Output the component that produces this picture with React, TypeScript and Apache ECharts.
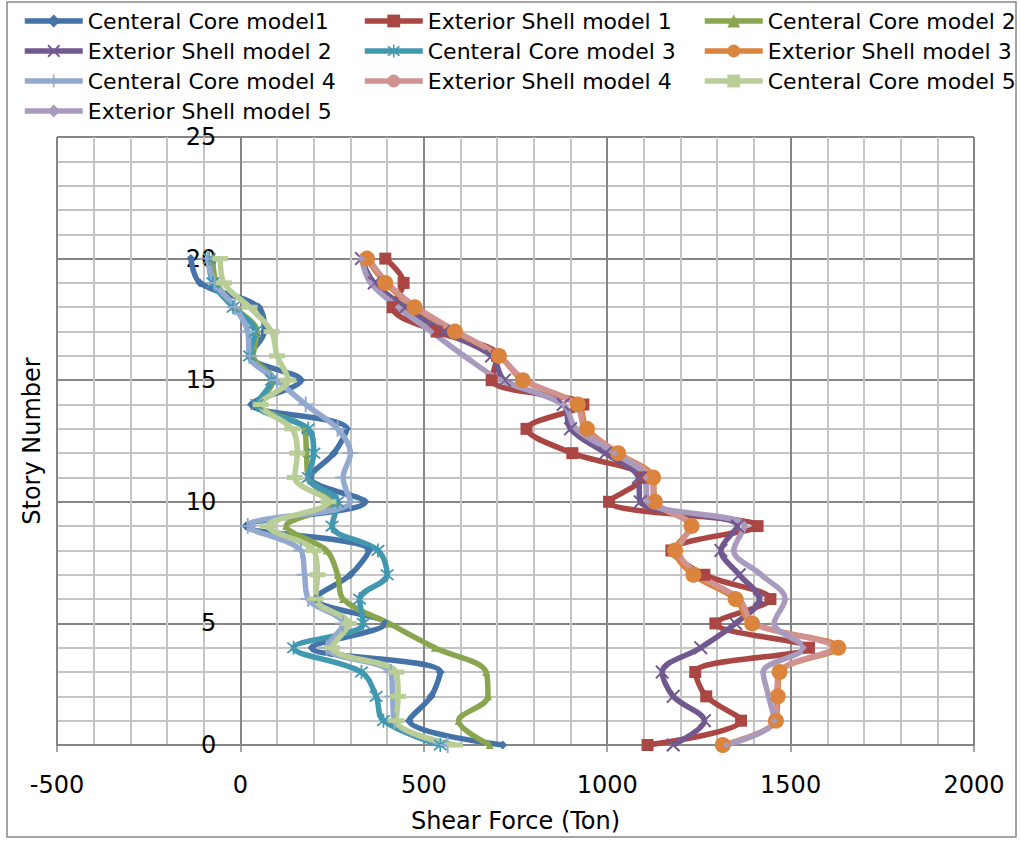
import React, { useEffect, useRef } from "react";
import * as echarts from "echarts";

// Story levels (0 = base, 20 = roof)
const stories = [0, 1, 2, 3, 4, 5, 6, 7, 8, 9, 10, 11, 12, 13, 14, 15, 16, 17, 18, 19, 20];

// Shear force per story (Ton), listed from story 0 up to story 20
const coreModel1 = [715, 460, 520, 545, 195, 395, 205, 300, 350, 15, 340, 190, 255, 290, 30, 165, 25, 65, 50, -110, -135];
const shellModel1 = [1110, 1365, 1270, 1240, 1550, 1295, 1445, 1265, 1175, 1410, 1005, 1100, 905, 780, 935, 685, 700, 535, 415, 445, 395];
const coreModel2 = [680, 595, 675, 670, 530, 405, 280, 265, 235, 125, 255, 185, 180, 175, 50, 90, 35, 45, -15, -65, -75];
const shellModel2 = [1180, 1265, 1180, 1150, 1255, 1350, 1415, 1360, 1310, 1355, 1090, 1085, 995, 900, 880, 720, 685, 555, 450, 365, 330];
const coreModel3 = [545, 390, 370, 330, 145, 335, 325, 400, 375, 250, 265, 185, 200, 185, 45, 85, 25, 40, -20, -75, -85];
const shellModel3 = [1315, 1460, 1465, 1470, 1630, 1395, 1350, 1235, 1185, 1230, 1130, 1125, 1030, 945, 920, 770, 705, 585, 475, 395, 345];
const coreModel4 = [565, 420, 415, 410, 235, 280, 185, 175, 165, 20, 300, 280, 300, 265, 178, 100, 25, 20, -15, -70, -90];
const shellModel4 = [1320, 1458, 1462, 1468, 1615, 1400, 1360, 1250, 1195, 1225, 1130, 1120, 1030, 940, 915, 775, 705, 590, 480, 400, 350];
const coreModel5 = [585, 425, 430, 425, 250, 295, 205, 210, 200, 75, 240, 148, 155, 141, 55, 130, 100, 85, 25, -45, -55];
const shellModel5 = [1325, 1455, 1440, 1425, 1535, 1455, 1485, 1420, 1345, 1375, 1110, 1105, 1020, 915, 880, 710, 610, 520, 430, 355, 330];

const seriesNames = [
  "Centeral Core model1",
  "Exterior Shell model 1",
  "Centeral Core model 2",
  "Exterior Shell model 2",
  "Centeral Core model 3",
  "Exterior Shell model 3",
  "Centeral Core model 4",
  "Exterior Shell model 4",
  "Centeral Core model 5",
  "Exterior Shell model 5",
];
const seriesValues = [
  coreModel1, shellModel1, coreModel2, shellModel2, coreModel3,
  shellModel3, coreModel4, shellModel4, coreModel5, shellModel5,
];

const xTicks = { min: -500, max: 2000, step: 500 };
const yTicks = { min: 0, max: 25, step: 5 };

const palette = [
  "#4572A7", "#AA4643", "#89A54E", "#71588F", "#4198AF",
  "#DB843D", "#93A9CF", "#D19392", "#B9CD96", "#A99BBD",
];

const crossPath = "path://M1,0L5,4L9,0L10,1L6,5L10,9L9,10L5,6L1,10L0,9L4,5L0,1Z";
const starPath = "path://M1,0L5,4L9,0L10,1L6,5L10,9L9,10L5,6L1,10L0,9L4,5L0,1Z M4.4,-1H5.6V11H4.4Z";
const plusPath = "path://M4.4,0H5.6V4.4H10V5.6H5.6V10H4.4V5.6H0V4.4H4.4Z";

const markers: any[] = [
  { symbol: "diamond", symbolSize: 9 },
  { symbol: "rect", symbolSize: 12 },
  { symbol: "triangle", symbolSize: 8 },
  { symbol: crossPath, symbolSize: 14 },
  { symbol: starPath, symbolSize: 14 },
  { symbol: "circle", symbolSize: 16 },
  { symbol: plusPath, symbolSize: 16 },
  { symbol: "none", symbolSize: 0 },
  { symbol: "rect", symbolSize: [16, 5] },
  { symbol: "diamond", symbolSize: 7 },
];

const FONT = "DejaVu Sans";
const GRID_MAJOR = "#868686";
const GRID_MINOR = "#C4C4C4";

// Plot box in pixels
const PLOT_LEFT = 57;
const PLOT_RIGHT = 974;

export default function App() {
  const ref = useRef<HTMLDivElement>(null);

  useEffect(() => {
    if (!ref.current) return;
    const chart = echarts.init(ref.current, undefined, { renderer: "svg" });

    const series = seriesNames.map((name, i) => ({
      name,
      type: "line",
      data: seriesValues[i].map((v, k) => [v, stories[k]]),
      smooth: 0.35,
      symbol: markers[i].symbol,
      symbolSize: markers[i].symbolSize,
      showSymbol: markers[i].symbol !== "none",
      lineStyle: { color: palette[i], width: 5.5 },
      itemStyle: { color: palette[i] },
      emphasis: { disabled: true },
    }));

    const legendBase = {
      orient: "vertical",
      top: 8,
      itemWidth: 58,
      itemHeight: 16,
      itemGap: 4,
      padding: 0,
      selectedMode: false,
      lineStyle: { width: 5.5 },
      textStyle: { fontFamily: FONT, fontSize: 22, color: "#000", lineHeight: 26 },
    };

    const plainNumber = (v: number) => String(v);

    // The vertical axis crosses the horizontal one at zero shear force
    const zeroShift =
      ((0 - xTicks.min) / (xTicks.max - xTicks.min)) * (PLOT_RIGHT - PLOT_LEFT);

    chart.setOption({
      animation: false,
      backgroundColor: "#fff",
      textStyle: { fontFamily: FONT },
      legend: [
        { ...legendBase, left: 22, data: [seriesNames[0], seriesNames[3], seriesNames[6], seriesNames[9]] },
        { ...legendBase, left: 362, data: [seriesNames[1], seriesNames[4], seriesNames[7]] },
        { ...legendBase, left: 702, data: [seriesNames[2], seriesNames[5], seriesNames[8]] },
      ],
      grid: {
        left: PLOT_LEFT,
        right: 1021 - PLOT_RIGHT,
        top: 137,
        bottom: 96,
        containLabel: false,
        outerBoundsMode: "none",
      },
      xAxis: {
        type: "value",
        min: xTicks.min,
        max: xTicks.max,
        interval: xTicks.step,
        name: "Shear Force (Ton)",
        nameLocation: "middle",
        nameGap: 64,
        nameTextStyle: { fontFamily: FONT, fontSize: 24, color: "#000" },
        axisLine: { show: true, onZero: false, lineStyle: { color: GRID_MAJOR, width: 2 } },
        axisTick: { show: true, length: 7, lineStyle: { color: GRID_MAJOR, width: 1.5 } },
        axisLabel: { fontFamily: FONT, fontSize: 24, color: "#000", margin: 28, formatter: plainNumber },
        splitLine: { show: true, lineStyle: { color: GRID_MAJOR, width: 2 } },
        minorTick: { show: false, splitNumber: 5 },
        minorSplitLine: { show: true, lineStyle: { color: GRID_MINOR, width: 2 } },
      },
      yAxis: {
        type: "value",
        min: yTicks.min,
        max: yTicks.max,
        interval: yTicks.step,
        offset: -zeroShift,
        name: "Story Number",
        nameLocation: "middle",
        nameRotate: 90,
        nameGap: 196,
        nameTextStyle: { fontFamily: FONT, fontSize: 24, color: "#000" },
        axisLine: { show: true, onZero: false, lineStyle: { color: GRID_MAJOR, width: 2 } },
        axisTick: { show: true, length: 5, lineStyle: { color: GRID_MAJOR, width: 1.5 } },
        axisLabel: {
          fontFamily: FONT,
          fontSize: 24,
          lineHeight: 20,
          color: "#000",
          margin: 24,
          formatter: plainNumber,
        },
        splitLine: { show: true, lineStyle: { color: GRID_MAJOR, width: 2 } },
        minorTick: { show: false, splitNumber: 5 },
        minorSplitLine: { show: true, lineStyle: { color: GRID_MINOR, width: 2 } },
      },
      graphic: [
        {
          type: "rect",
          silent: true,
          shape: { x: 7, y: 2, width: 1009, height: 835 },
          style: { fill: "none", stroke: GRID_MAJOR, lineWidth: 1.5 },
        },
      ],
      series,
    });

    return () => chart.dispose();
  }, []);

  return (
    <div
      ref={ref}
      style={{ position: "absolute", left: 0, top: 0, width: 1021, height: 841 }}
    />
  );
}
